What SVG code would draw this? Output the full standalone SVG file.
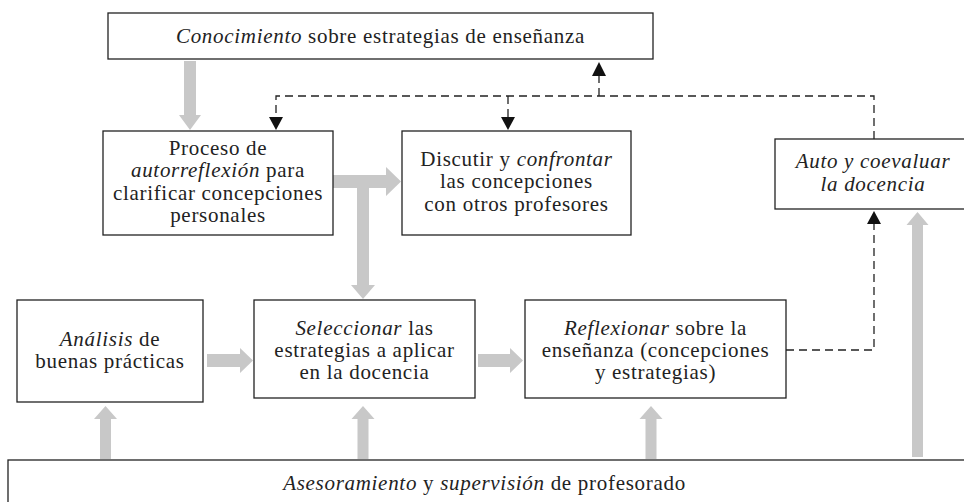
<svg xmlns="http://www.w3.org/2000/svg" width="964" height="502" viewBox="0 0 964 502">
<defs>
<style>
.box{fill:#fff;stroke:#222;stroke-width:1.3}
.t{font-family:"Liberation Serif","DejaVu Serif",serif;font-size:21px;letter-spacing:0.7px;fill:#222;text-anchor:middle}
.i{font-style:italic}
.g{fill:#c8c8c8;stroke:none}
.d{fill:none;stroke:#222;stroke-width:1.3;stroke-dasharray:8 5}
.h{fill:#111;stroke:none}
</style>
</defs>
<rect width="964" height="502" fill="#fff"/>
<g id="connectors">
<polygon class="g" points="184,61 196,61 196,115 201,115 190,130 179,115 184,115"/>
<polygon class="g" points="333,175 386,175 386,167 401,181.5 386,196 386,188 333,188"/>
<polygon class="g" points="357,188 369,188 369,285 375,285 363,299 351,285 357,285"/>
<polygon class="g" points="207,354 240,354 240,348 253,360.5 240,373 240,367 207,367"/>
<polygon class="g" points="478,354 510,354 510,348 523,360.5 510,373 510,367 478,367"/>
<polygon class="g" points="100,459 111,459 111,419 117,419 105.5,406 94,419 100,419"/>
<polygon class="g" points="357.5,459 368.5,459 368.5,419 374.5,419 363,406 351.5,419 357.5,419"/>
<polygon class="g" points="645.5,459 656.5,459 656.5,419 662.5,419 651,406 639.5,419 645.5,419"/>
<polygon class="g" points="912,457 923,457 923,225 928.5,225 917.5,212 906.5,225 912,225"/>
<path class="d" d="M874,139 V96 H276 V118"/>
<path class="d" d="M508,96 V118"/>
<path class="d" d="M599,96 V76"/>
<path class="d" d="M786,350 H874 V224"/>
<polygon class="h" points="269,117 283,117 276,130"/>
<polygon class="h" points="501,117 515,117 508,130"/>
<polygon class="h" points="592,76 606,76 599,62"/>
<polygon class="h" points="867,224 881,224 874,211"/>
</g>
<g id="conocimiento">
<rect class="box" x="108" y="13" width="545" height="46"/>
<text class="t" x="380.5" y="43"><tspan class="i">Conocimiento</tspan> sobre estrategias de enseñanza</text>
</g>
<g id="proceso">
<rect class="box" x="103" y="131" width="230" height="104"/>
<text class="t" x="218" y="155">Proceso de</text>
<text class="t" x="218" y="177"><tspan class="i">autorreflexión</tspan> para</text>
<text class="t" x="218" y="200">clarificar concepciones</text>
<text class="t" x="218" y="222">personales</text>
</g>
<g id="discutir">
<rect class="box" x="402" y="131" width="229" height="104"/>
<text class="t" x="516.5" y="166">Discutir y <tspan class="i">confrontar</tspan></text>
<text class="t" x="516.5" y="188">las concepciones</text>
<text class="t" x="516.5" y="211">con otros profesores</text>
</g>
<g id="auto">
<rect class="box" x="775" y="139" width="200" height="70"/>
<text class="t i" x="873" y="168">Auto y coevaluar</text>
<text class="t i" x="873" y="191">la docencia</text>
</g>
<g id="analisis">
<rect class="box" x="17" y="300" width="186" height="102"/>
<text class="t" x="110" y="346"><tspan class="i">Análisis</tspan> de</text>
<text class="t" x="110" y="368">buenas prácticas</text>
</g>
<g id="seleccionar">
<rect class="box" x="254" y="300" width="221" height="98"/>
<text class="t" x="364.5" y="335"><tspan class="i">Seleccionar</tspan> las</text>
<text class="t" x="364.5" y="357">estrategias a aplicar</text>
<text class="t" x="364.5" y="379">en la docencia</text>
</g>
<g id="reflexionar">
<rect class="box" x="525" y="300" width="261" height="98"/>
<text class="t" x="655.5" y="335"><tspan class="i">Reflexionar</tspan> sobre la</text>
<text class="t" x="655.5" y="357">enseñanza (concepciones</text>
<text class="t" x="655.5" y="379">y estrategias)</text>
</g>
<g id="asesoramiento">
<rect class="box" x="8" y="460" width="980" height="60"/>
<text class="t" x="484.5" y="490"><tspan class="i">Asesoramiento</tspan> y <tspan class="i">supervisión</tspan> de profesorado</text>
</g>
</svg>
